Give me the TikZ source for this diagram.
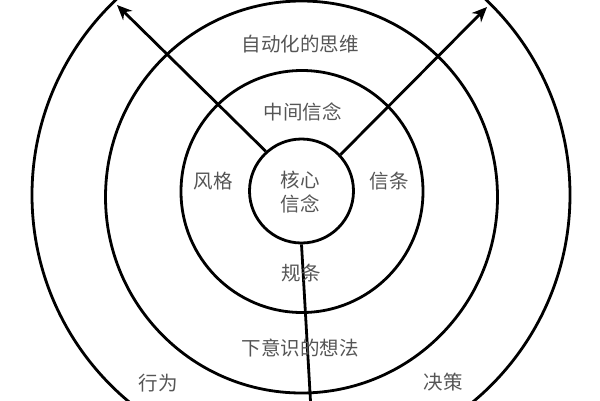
\documentclass[tikz,border=0pt]{standalone}
\usepackage{fontspec}
\newfontfamily\cjk{Noto Sans CJK SC}
\usetikzlibrary{arrows.meta}
\definecolor{txtgray}{HTML}{555555}
\tikzset{
  ring/.style={circle, draw=black, line width=2.8pt, inner sep=0pt},
  lbl/.style={text=txtgray, font=\cjk\fontsize{19.5}{23}\selectfont, inner sep=0pt, align=center},
  conn/.style={line width=2.8pt, draw=black},
  arr/.style={conn, -{Stealth[length=15pt,width=13pt]}}
}
\begin{document}
\begin{tikzpicture}[x=1pt,y=-1pt]
\useasboundingbox (0,0) rectangle (600,400);
\node[ring, minimum size=538pt] (outer) at (301,195) {};
\node[ring, minimum size=392pt] (third) at (301.5,197) {};
\node[ring, minimum size=242pt] (mid) at (302,191.5) {};
\node[ring, minimum size=104pt] (core) at (301.5,191) {};
\coordinate (tipL) at (117,5);
\coordinate (tipR) at (487,7);
\coordinate (endB) at (311,410);
\draw[arr] (core.132) -- (tipL);
\draw[arr] (core.43) -- (tipR);
\draw[conn] (core.south) -- (endB);
\node[lbl] (t1) at (300,44) {自动化的思维};
\node[lbl] (t2) at (302.5,112) {中间信念};
\node[lbl] (t3) at (213,181) {风格};
\node[lbl] (t4) at (389,181) {信条};
\node[lbl] (t5) at (300,192.5) {核心\\[1pt]信念};
\node[lbl] (t6) at (301,273) {规条};
\node[lbl] (t7) at (300,348) {下意识的想法};
\node[lbl] (t8) at (158,383) {行为};
\node[lbl] (t9) at (443,382) {决策};
\end{tikzpicture}
\end{document}
